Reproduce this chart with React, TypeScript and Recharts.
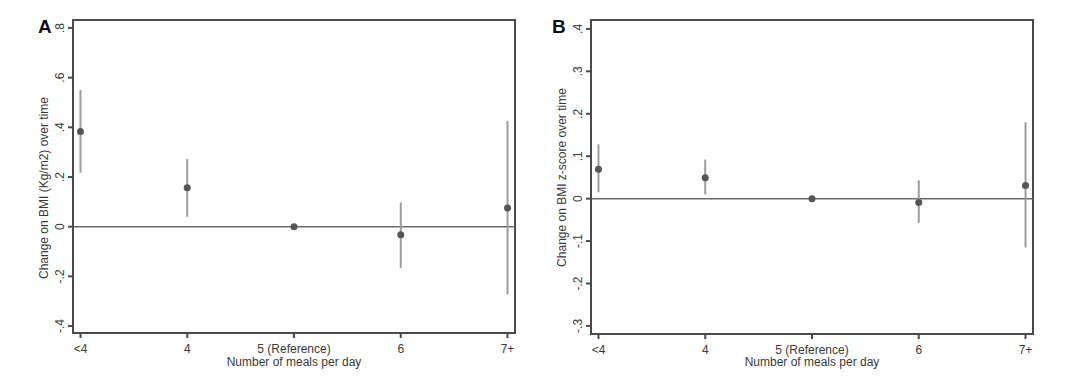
import { ScatterChart, Scatter, XAxis, YAxis, ErrorBar, ReferenceLine, ReferenceArea } from "recharts"

const meals = ["<4", "4", "5 (Reference)", "6", "7+"]

// panel A: change on BMI (kg/m2)
const bmiEst = [0.383, 0.157, 0, -0.032, 0.075]
const bmiLow = [0.217, 0.04, 0, -0.166, -0.273]
const bmiHigh = [0.55, 0.273, 0, 0.098, 0.426]
const bmiTicks = [-0.4, -0.2, 0, 0.2, 0.4, 0.6, 0.8]

// panel B: change on BMI z-score
const zEst = [0.069, 0.049, 0, -0.009, 0.031]
const zLow = [0.015, 0.01, 0, -0.057, -0.115]
const zHigh = [0.128, 0.092, 0, 0.043, 0.18]
const zTicks = [-0.3, -0.2, -0.1, 0, 0.1, 0.2, 0.3, 0.4]

const W = 540
const H = 380
const TOP = 20
const X_DOMAIN: [number, number] = [-0.07, 4.07]
const TEXT = "#3a3a3a"

// stata style: ".4", "-.2", "0"
const fmt = (v: number) => (v === 0 ? "0" : v.toFixed(1).replace("0.", "."))

const RotTick = (props: any) => {
  const { x, y, payload } = props
  return (
    <text x={x} y={y} transform={`rotate(-90 ${x} ${y})`} textAnchor="middle" fill={TEXT} fontSize={12}>
      {fmt(payload.value)}
    </text>
  )
}

type PanelProps = {
  letter: string
  est: number[]
  low: number[]
  high: number[]
  ticks: number[]
  domain: [number, number]
  yTitle: string
  plotLeft: number
  plotRight: number
  plotBottom: number
}

function Panel({ letter, est, low, high, ticks, domain, yTitle, plotLeft, plotRight, plotBottom }: PanelProps) {
  const data = meals.map((m, i) => ({ x: i, y: est[i], ci: [est[i] - low[i], high[i] - est[i]] }))
  const midY = (TOP + plotBottom) / 2

  return (
    <div style={{ position: "relative", width: W, height: H }}>
      <ScatterChart width={W} height={H} margin={{ top: TOP, right: W - plotRight, bottom: 0, left: 0 }}>
        <XAxis
          type="number"
          dataKey="x"
          domain={X_DOMAIN}
          ticks={[0, 1, 2, 3, 4]}
          tickFormatter={(i: number) => meals[i]}
          height={H - plotBottom}
          tickSize={5}
          tickMargin={6}
          stroke="#4a4a4a"
          strokeWidth={2}
          tick={{ fill: TEXT, fontSize: 12 }}
          allowDataOverflow
          label={{ value: "Number of meals per day", position: "insideBottom", offset: 14, fill: TEXT, fontSize: 12 }}
        />
        <YAxis
          type="number"
          dataKey="y"
          domain={domain}
          ticks={ticks}
          width={plotLeft}
          tickSize={5}
          tickMargin={4}
          stroke="#4a4a4a"
          strokeWidth={2}
          tick={<RotTick />}
          allowDataOverflow
          label={
            <text
              x={plotLeft - 25}
              y={midY}
              transform={`rotate(-90 ${plotLeft - 25} ${midY})`}
              textAnchor="middle"
              fill={TEXT}
              fontSize={12}
            >
              {yTitle}
            </text>
          }
        />
        <ReferenceArea
          x1={X_DOMAIN[0]}
          x2={X_DOMAIN[1]}
          y1={domain[0]}
          y2={domain[1]}
          fill="none"
          stroke="#4a4a4a"
          strokeWidth={2}
          ifOverflow="visible"
        />
        <ReferenceLine y={0} stroke="#6a6a6a" strokeWidth={1.5} />
        <Scatter
          data={data}
          isAnimationActive={false}
          shape={(p: any) => <circle cx={p.cx} cy={p.cy} r={3.5} fill="#555" />}
        >
          <ErrorBar dataKey="ci" direction="y" width={0} stroke="#9c9c9c" strokeWidth={2} isAnimationActive={false} />
        </Scatter>
      </ScatterChart>
      <span
        style={{
          position: "absolute",
          left: letter === "A" ? 38 : 12,
          top: 17,
          fontSize: 19,
          lineHeight: "19px",
          fontWeight: "bold",
          color: "#111",
        }}
      >
        {letter}
      </span>
    </div>
  )
}

export default function App() {
  return (
    <div
      style={{
        position: "absolute",
        left: 0,
        top: 0,
        width: 1080,
        height: 380,
        display: "flex",
        background: "#fff",
        fontFamily: "'Liberation Sans', Arial, sans-serif",
      }}
    >
      <Panel
        letter="A"
        est={bmiEst}
        low={bmiLow}
        high={bmiHigh}
        ticks={bmiTicks}
        domain={[-0.428, 0.832]}
        yTitle="Change on BMI (Kg/m2) over time"
        plotLeft={73}
        plotRight={515}
        plotBottom={333}
      />
      <Panel
        letter="B"
        est={zEst}
        low={zLow}
        high={zHigh}
        ticks={zTicks}
        domain={[-0.319, 0.421]}
        yTitle="Change on BMI z-score over time"
        plotLeft={51}
        plotRight={493}
        plotBottom={334}
      />
    </div>
  )
}
